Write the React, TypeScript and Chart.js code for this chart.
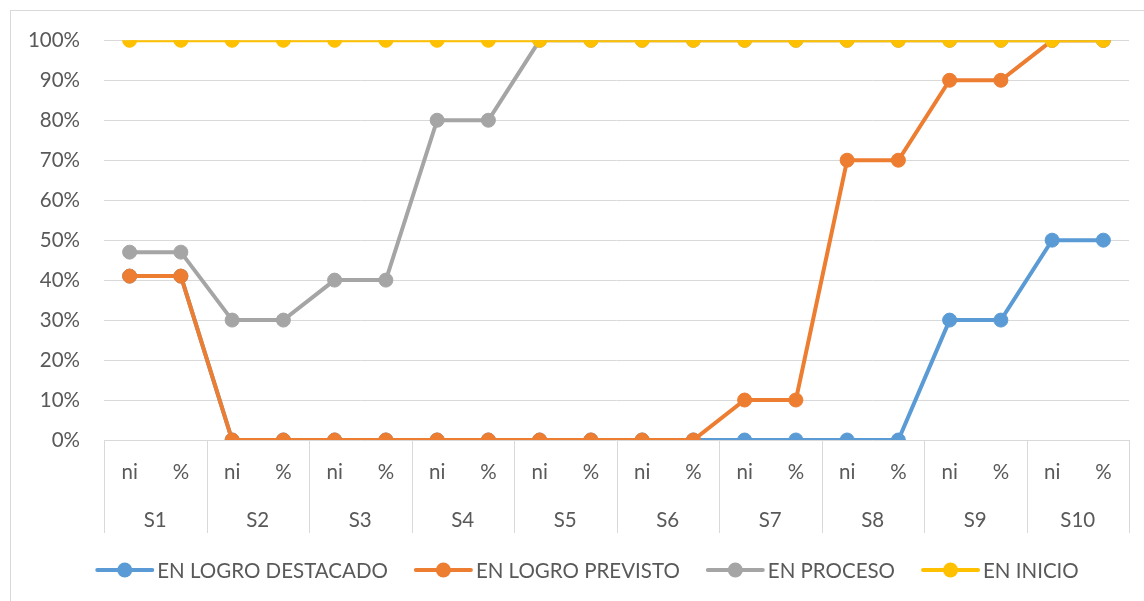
import React, { useEffect, useRef } from 'react';
import { Chart, registerables } from 'chart.js';
Chart.register(...registerables);

const groups = ['S1', 'S2', 'S3', 'S4', 'S5', 'S6', 'S7', 'S8', 'S9', 'S10'];
const subLabels = ['ni', '%'];
const categories = groups.flatMap((g) => subLabels.map((s) => `${g} ${s}`));

const seriesNames = ['EN LOGRO DESTACADO', 'EN LOGRO PREVISTO', 'EN PROCESO', 'EN INICIO'];
const destacado = [41, 41, 0, 0, 0, 0, 0, 0, 0, 0, 0, 0, 0, 0, 0, 0, 30, 30, 50, 50];
const previsto = [41, 41, 0, 0, 0, 0, 0, 0, 0, 0, 0, 0, 10, 10, 70, 70, 90, 90, 100, 100];
const proceso = [47, 47, 30, 30, 40, 40, 80, 80, 100, 100, 100, 100, 100, 100, 100, 100, 100, 100, 100, 100];
const inicio = [100, 100, 100, 100, 100, 100, 100, 100, 100, 100, 100, 100, 100, 100, 100, 100, 100, 100, 100, 100];
const colors = ['#5B9BD5', '#ED7D31', '#A5A5A5', '#FFC000'];

const FONT = 'Lato, "Liberation Sans", sans-serif';
const FONT_SIZE = 20.5;
const TEXT = '#595959';
const GRID = '#D9D9D9';
const SHIFT = 7;

const axisPlugin = {
  id: 'multiAxisLegend',
  afterDraw(chart: any) {
    const ctx = chart.ctx;
    const x = chart.scales.x;
    const area = chart.chartArea;
    const n = categories.length;
    const step = x.getPixelForValue(1) - x.getPixelForValue(0);
    ctx.save();
    ctx.strokeStyle = GRID;
    ctx.lineWidth = 1;
    for (let g = 0; g <= groups.length; g++) {
      const px = Math.round(x.getPixelForValue(g * 2) - step / 2) + 0.5;
      ctx.beginPath();
      ctx.moveTo(px, area.bottom);
      ctx.lineTo(px, area.bottom + 93);
      ctx.stroke();
    }
    ctx.fillStyle = TEXT;
    ctx.font = `${FONT_SIZE}px ${FONT}`;
    ctx.textAlign = 'center';
    ctx.textBaseline = 'middle';
    for (let i = 0; i < n; i++) {
      ctx.fillText(subLabels[i % 2], x.getPixelForValue(i), area.bottom + 32);
    }
    for (let g = 0; g < groups.length; g++) {
      const cx = (x.getPixelForValue(g * 2) + x.getPixelForValue(g * 2 + 1)) / 2;
      ctx.fillText(groups[g], cx, area.bottom + 80);
    }
    const lineW = 55;
    const gapText = 5;
    const gapItem = 28;
    const widths = seriesNames.map((s) => ctx.measureText(s).width);
    const total = widths.reduce((a, w) => a + lineW + gapText + w, 0) + gapItem * (seriesNames.length - 1);
    let lx = chart.width / 2 - total / 2;
    const ly = 559 + SHIFT;
    ctx.textAlign = 'left';
    seriesNames.forEach((s, i) => {
      ctx.strokeStyle = colors[i];
      ctx.lineWidth = 4;
      ctx.lineCap = 'round';
      ctx.beginPath();
      ctx.moveTo(lx, ly);
      ctx.lineTo(lx + lineW, ly);
      ctx.stroke();
      ctx.fillStyle = colors[i];
      ctx.beginPath();
      ctx.arc(lx + lineW / 2, ly, 7.5, 0, Math.PI * 2);
      ctx.fill();
      ctx.fillStyle = TEXT;
      ctx.fillText(s, lx + lineW + gapText, ly + 1);
      lx += lineW + gapText + widths[i] + gapItem;
    });
    ctx.restore();
  },
};

export default function App() {
  const ref = useRef<HTMLCanvasElement>(null);
  useEffect(() => {
    document.body.style.overflow = 'hidden';
    const data = [destacado, previsto, proceso, inicio];
    const chart = new Chart(ref.current!, {
      type: 'line',
      data: {
        labels: categories,
        datasets: data.map((d, i) => ({
          label: seriesNames[i],
          data: d,
          borderColor: colors[i],
          backgroundColor: colors[i],
          pointBackgroundColor: colors[i],
          pointBorderColor: colors[i],
          borderWidth: 4,
          pointRadius: 7,
          pointBorderWidth: 1,
          tension: 0,
          order: 4 - i,
        })),
      },
      options: {
        animation: false,
        responsive: false,
        layout: { padding: { left: 0, top: 21, right: 36, bottom: 164 } },
        plugins: { legend: { display: false }, tooltip: { enabled: false } },
        scales: {
          x: { display: false, offset: true },
          y: {
            min: 0,
            max: 100,
            afterFit: (s: any) => { s.width = 93; },
            border: { display: false },
            grid: { color: GRID, lineWidth: 1, drawTicks: false },
            ticks: {
              stepSize: 10,
              padding: 24,
              color: TEXT,
              font: { family: FONT, size: FONT_SIZE },
              callback: (v: any) => `${v}%`,
            },
          },
        },
      },
      plugins: [axisPlugin],
    });
    return () => chart.destroy();
  }, []);
  return (
    <div
      style={{
        position: 'fixed',
        left: 10,
        top: 10,
        width: 1154,
        height: 600,
        border: '1px solid #D9D9D9',
        background: '#fff',
        overflow: 'hidden',
      }}
    >
      <canvas
        ref={ref}
        width={1154}
        height={600}
        style={{ display: 'block', marginTop: -SHIFT }}
      />
    </div>
  );
}
